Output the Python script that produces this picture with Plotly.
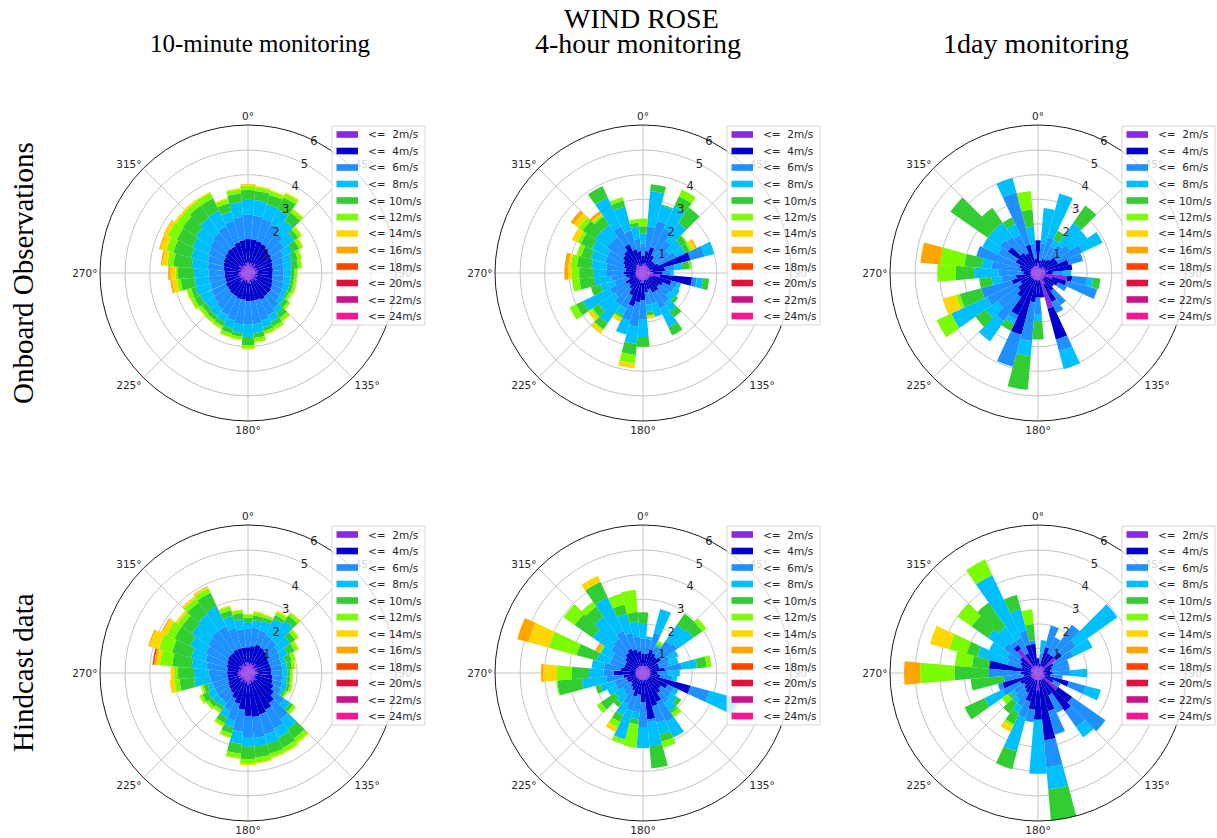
import numpy as np
import plotly.graph_objects as go

# ---------------- data ----------------
# wind direction sectors (degrees, clockwise from north)
DIRECTIONS = list(range(0, 360, 10))

SPEED_LABELS = ["<=\u00a0\u00a02m/s", "<=\u00a0\u00a04m/s", "<=\u00a0\u00a06m/s", "<=\u00a0\u00a08m/s",
                "<= 10m/s", "<= 12m/s", "<= 14m/s", "<= 16m/s",
                "<= 18m/s", "<= 20m/s", "<= 22m/s", "<= 24m/s"]
SPEED_COLORS = ["#8a2be2", "#0000cd", "#1e90ff", "#00bfff", "#32cd32", "#7cfc00",
                "#ffd700", "#ffa500", "#ff4500", "#dc143c", "#c71585", "#ff1493"]

COL_TITLES = ["10-minute monitoring", "4-hour monitoring", "1day monitoring"]
ROW_TITLES = ["Onboard Observations", "Hindcast data"]
RADIAL_TICKS = [1, 2, 3, 4, 5, 6]
ANGLE_TICKS = [0, 45, 90, 135, 180, 225, 270, 315]

# Cumulative frequency (%) per direction sector:
# each row = one sector (0, 10, ... 350 deg); values = cumulative up to <=2, <=4, <=6 ... m/s
OBS_10MIN = [
    [.45, 1.38, 2.37, 2.98, 3.38, 3.55, 3.62], [.35, 1.38, 2.35, 2.98, 3.35, 3.5, 3.55],
    [.4, 1.35, 2.3, 2.9, 3.3, 3.45, 3.5], [.3, 1.3, 2.2, 2.85, 3.4, 3.57, 3.62],
    [.45, 1.2, 2.0, 2.6, 3.0, 3.15, 3.2], [.3, 1.15, 1.8, 2.3, 2.5, 2.65, 2.7],
    [.35, 1.1, 1.6, 2.0, 2.3, 2.45, 2.5], [.3, 1.05, 1.5, 1.85, 2.1, 2.25, 2.28],
    [.4, 1.02, 1.45, 1.8, 2.05, 2.2, 2.22], [.35, 1.0, 1.45, 1.75, 1.9, 2.0, 2.02],
    [.3, 1.0, 1.45, 1.75, 1.88, 1.98, 2.0], [.4, 1.05, 1.5, 1.75, 1.9, 2.01, 2.03],
    [.3, 1.1, 1.55, 1.75, 1.85, 1.95, 1.97], [.45, 1.15, 1.6, 1.8, 2.0, 2.1, 2.13],
    [.3, 1.15, 1.75, 2.0, 2.25, 2.4, 2.43], [.35, 1.2, 1.9, 2.2, 2.4, 2.53, 2.56],
    [.3, 1.15, 2.0, 2.3, 2.45, 2.57, 2.6], [.45, 1.15, 2.1, 2.45, 2.65, 2.82, 2.85],
    [.4, 1.15, 2.1, 2.6, 2.95, 3.07, 3.12], [.3, 1.1, 2.1, 2.45, 2.6, 2.72, 2.75],
    [.35, 1.1, 2.0, 2.35, 2.55, 2.7, 2.73], [.3, 1.05, 1.9, 2.2, 2.38, 2.5, 2.53],
    [.45, 1.05, 1.8, 2.15, 2.35, 2.47, 2.5], [.3, 1.0, 1.7, 2.1, 2.3, 2.45, 2.48],
    [.35, 1.0, 1.65, 2.15, 2.4, 2.55, 2.58], [.3, .95, 1.6, 2.2, 2.4, 2.57, 2.61],
    [.4, .95, 1.6, 2.2, 2.75, 2.9, 3.1, 3.17], [.35, .95, 1.6, 2.2, 2.85, 2.95, 3.15, 3.25],
    [.3, 1.0, 1.65, 2.3, 3.05, 3.3, 3.5, 3.56], [.4, 1.05, 1.7, 2.4, 3.15, 3.45, 3.7, 3.75],
    [.3, 1.1, 1.8, 2.5, 3.2, 3.6, 3.75, 3.78], [.45, 1.15, 1.9, 2.6, 3.25, 3.55, 3.65],
    [.3, 1.2, 2.0, 2.75, 3.35, 3.58, 3.66], [.35, 1.2, 2.1, 2.8, 3.35, 3.6, 3.65],
    [.3, 1.3, 2.2, 2.6, 2.95, 3.12, 3.17], [.4, 1.35, 2.3, 2.9, 3.25, 3.42, 3.47],
]

OBS_4H = [
    [.35, .7, 1.2, 1.6, 1.9, 2.22], [.4, .9, 1.9, 3.35, 3.62],
    [.35, 1.1, 2.2, 2.85, 2.9], [.3, .8, 2.0, 3.0, 3.45, 3.75],
    [.3, .6, 1.6, 2.5, 3.25], [.3, .6, 1.3, 1.9, 2.15, 2.2],
    [.3, .7, 1.5, 1.9, 2.1, 2.2, 2.35, 2.42], [.4, 2.0, 2.6, 3.0],
    [.3, .9, 1.3, 1.6, 1.9, 2.0], [.4, .8, 1.1, 1.25],
    [.7, 2.0, 2.2, 2.45, 2.7], [.4, 1.2, 1.45, 1.6],
    [.3, .9, 1.4, 1.65], [.3, .8, 1.3, 1.6, 1.75],
    [.3, .9, 1.5, 1.9, 2.2], [.3, .9, 1.6, 2.45, 2.8],
    [.3, .7, 1.3, 1.85], [.3, .8, 1.3, 1.6, 1.75, 1.75, 1.88],
    [.4, 1.1, 1.9, 2.6, 3.0], [.4, 1.2, 2.2, 2.9, 3.35, 3.7, 3.9],
    [.3, 1.4, 2.0, 2.6], [.3, 1.0, 1.6, 1.9, 2.0, 2.05, 2.2],
    [.3, .8, 1.6, 2.5, 2.8, 2.85, 3.0], [.3, .7, 1.4, 2.2, 2.5, 2.6, 2.75],
    [.3, .8, 1.5, 2.7, 3.0, 3.3], [.3, .6, 1.2, 1.8, 2.2],
    [.3, .7, 1.3, 2.0, 2.6, 2.9], [.3, .8, 1.5, 2.0, 2.6, 2.9, 3.05, 3.2],
    [.3, .7, 1.5, 2.1, 2.7, 2.95, 3.05, 3.2], [.3, .8, 1.6, 2.2, 2.6, 2.8],
    [.3, .9, 1.6, 2.3, 2.8, 2.95, 3.2], [.35, 1.0, 1.8, 2.4, 3.0, 3.2, 3.45, 3.6],
    [.4, 1.1, 1.8, 2.4, 2.8, 2.9, 2.95, 3.08], [.4, 1.3, 2.1, 3.4, 3.9],
    [.3, 1.0, 1.8, 2.8, 3.05, 3.2], [.3, .9, 1.4, 1.9, 2.05, 2.2],
]

OBS_1DAY = [
    [.4, 1.33], [.2, .5, 1.2, 2.65],
    [.2, .6, 1.5, 3.35], [.2, .6, 1.2, 1.5, 1.9],
    [.3, .7, 1.4, 2.5, 3.35], [.3, .9, 1.6, 2.45],
    [.3, .9, 2.0, 2.9], [.3, 1.3, 1.9],
    [.4, 1.4], [.3, .6, 1.0, 1.35],
    [1.2, 1.4, 2.0, 2.25, 2.55], [.6, 1.2, 2.5],
    [.3, .9, 1.3], [.3, .8],
    [.3, .9, 1.6], [.5, 1.3, 1.8],
    [1.5, 2.8, 3.3, 4.05], [.3, 1.0],
    [.3, 1.0, 1.7, 1.95, 2.7], [.3, 1.2, 2.78, 3.4, 4.77],
    [.3, 2.6, 3.95], [.3, 1.9, 2.1, 2.3, 2.6],
    [.3, 1.2, 2.4, 3.4], [.3, 1.0, 2.0, 2.6, 3.1],
    [.3, .8, 2.3, 3.9, 3.9, 4.55], [.3, 1.1, 2.4, 2.4, 3.3, 3.45, 4.0],
    [.3, .9, 1.5, 1.9, 2.4], [.3, .6, 1.6, 2.6, 3.35, 4.1],
    [.3, .7, 1.9, 2.3, 3.0, 4.0, 4.0, 4.8], [.3, .8, 2.6],
    [.3, 1.0, 1.8, 2.5], [.3, 1.5, 1.9, 2.5, 4.35],
    [.3, 1.0, 1.8, 2.5, 3.24], [.3, .9, 1.7, 2.2, 2.5],
    [.3, 1.2, 3.4, 4.0], [.3, .6, 1.2, 1.9, 2.6, 3.35],
]

HIND_10MIN = [
    [.45, 1.05, 1.8, 2.07, 2.25, 2.37, 2.41], [.35, 1.1, 1.85, 2.15, 2.35, 2.48, 2.53],
    [.4, 1.2, 1.8, 2.2, 2.35, 2.44, 2.48], [.35, 1.15, 1.7, 2.45, 2.6, 2.75, 2.8],
    [.45, 1.1, 1.65, 2.6, 2.85, 2.98, 3.02], [.3, 1.0, 1.5, 2.1, 2.35, 2.5, 2.55],
    [.4, .95, 1.45, 1.8, 2.1, 2.25, 2.3], [.3, .95, 1.4, 1.6, 1.85, 2.0, 2.03],
    [.35, .95, 1.4, 1.6, 1.8, 1.92, 1.95], [.4, .95, 1.4, 1.6, 1.72, 1.8, 1.83],
    [.3, 1.0, 1.4, 1.6, 1.74, 1.82, 1.84], [.35, 1.05, 1.45, 1.65, 1.78, 1.87, 1.9],
    [.3, 1.15, 1.5, 1.6, 1.7, 1.77, 1.79], [.45, 1.3, 1.8, 2.1, 2.25, 2.37, 2.4],
    [.35, 1.5, 2.3, 2.8, 3.25, 3.45, 3.5], [.4, 1.65, 2.5, 2.9, 3.35, 3.53, 3.58],
    [.35, 1.75, 2.6, 3.0, 3.4, 3.55, 3.6], [.45, 1.8, 2.65, 3.0, 3.45, 3.65, 3.7],
    [.5, 1.75, 2.6, 3.0, 3.5, 3.7, 3.75], [.35, 1.5, 2.4, 2.9, 3.3, 3.48, 3.51],
    [.4, 1.3, 2.0, 2.3, 2.55, 2.72, 2.75], [.3, 1.15, 1.7, 2.0, 2.25, 2.38, 2.42],
    [.45, 1.0, 1.5, 1.7, 1.85, 1.97, 2.0], [.3, .95, 1.5, 1.75, 1.95, 2.07, 2.1],
    [.4, .9, 1.5, 1.8, 2.05, 2.17, 2.2], [.3, .85, 1.5, 1.7, 1.88, 1.97, 2.0],
    [.4, .85, 1.55, 2.2, 2.8, 3.0, 3.2], [.45, .85, 1.6, 2.2, 2.85, 3.0, 3.15],
    [.35, .85, 1.7, 2.3, 3.1, 3.6, 3.75, 3.83, 3.9], [.4, .9, 1.8, 2.4, 3.2, 3.75, 4.15, 4.2],
    [.3, .95, 1.9, 2.6, 3.3, 3.65, 3.85, 3.9], [.45, 1.0, 2.0, 2.8, 3.3, 3.5, 3.6],
    [.35, 1.0, 2.1, 2.9, 3.5, 3.7, 3.78, 3.8], [.4, 1.05, 2.1, 3.0, 3.6, 3.8, 3.88, 3.9],
    [.3, 1.05, 1.9, 2.4, 2.65, 2.8, 2.85], [.45, 1.05, 1.8, 2.2, 2.45, 2.57, 2.6],
]

HIND_4H = [
    [.3, .8, 1.4, 2.0, 2.47], [.3, .8, 1.4, 1.5],
    [.3, 1.0, 1.7, 2.7], [.3, .9, 1.2, 1.25, 1.3, 1.45],
    [.3, .8, 1.6, 2.4, 2.95], [.3, .9, 1.7, 2.5, 2.95, 3.15],
    [.3, .7, 1.2, 1.6], [.3, .7, 1.1, 1.5],
    [.3, .9, 1.6, 2.2, 2.6, 2.8], [.3, .6, 1.0, 1.5],
    [.3, .7, 1.2, 1.4], [.3, 2.0, 2.8, 4.0, 4.0, 4.05, 4.1],
    [.3, 1.1, 1.4, 1.6], [.3, .9, 1.4, 1.7, 1.9],
    [.3, 1.0, 1.5, 1.9, 2.0, 2.2], [.3, 1.3, 2.2, 2.9],
    [.3, 1.4, 2.1, 2.6, 2.9, 3.15], [.3, 1.9, 2.0, 3.0, 3.9],
    [.3, 1.2, 2.2, 3.05], [.3, .9, 1.6, 1.9, 2.1, 3.05],
    [.3, 1.0, 1.6, 2.8, 2.8, 3.0], [.3, .8, 1.4, 1.9, 2.2, 2.45, 2.65],
    [.3, .7, 1.1, 1.5, 1.7], [.3, .6, 1.0, 1.4, 2.1, 2.3],
    [.3, .7, 1.2, 1.6], [.3, .7, 1.2, 1.8, 2.0],
    [.3, .8, 1.5, 2.5, 3.5, 3.55], [.3, 1.2, 1.6, 2.2, 2.9, 3.5, 4.05, 4.15],
    [.3, .9, 1.6, 2.1], [.3, .8, 1.4, 1.95, 2.8, 3.96, 4.83, 5.3],
    [.3, .8, 1.4, 1.9, 1.9, 2.0, 2.0, 2.15], [.3, .9, 1.6, 2.5, 3.4, 3.95],
    [.3, 1.0, 1.7, 2.8, 3.3, 3.55], [.3, 1.1, 1.9, 3.4, 4.1, 4.1, 4.37],
    [.3, 1.0, 1.7, 2.5, 2.9, 3.35], [.3, .9, 1.5, 2.1, 2.5, 3.4],
]

HIND_1DAY = [
    [.3, .6], [.2, .4, .8, 1.35],
    [.3, 1.1, 2.0], [.3, .9, 1.6],
    [.3, .9, 2.4], [.9, 1.2, 1.9, 3.95],
    [.3, .7, 1.6, 2.45], [.2, .6, 1.3],
    [.2, .5, 1.3], [.3, .6, 1.3, 2.0],
    [.2, .5, 1.0], [.3, 1.3, 2.0, 2.65],
    [.3, .7, 1.0], [1.0, 1.7, 3.35],
    [.3, 1.9, 2.7, 3.2], [.3, 1.0, 1.8],
    [.3, 1.6, 2.6], [.3, 2.75, 3.85, 4.75, 6.05],
    [.7, 1.9, 1.9, 4.1], [.3, 1.5, 2.0],
    [.3, 1.2, 1.9, 3.3, 4.05], [.3, .9, 1.5, 1.8, 2.3, 2.4, 2.65],
    [.3, .8, 1.3, 1.5, 2.0], [.3, .7, 1.2, 1.4, 1.5, 1.8],
    [.3, .8, 1.6, 2.4, 3.3], [.3, 1.5, 1.7],
    [.3, .6, 1.4, 1.4, 2.75], [.2, .7, 2.0, 2.0, 3.4, 4.8, 4.8, 5.45],
    [.3, 2.0, 2.0, 2.0, 2.7, 3.4], [.3, .7, 1.3, 2.55, 3.0, 3.75, 4.55],
    [.3, .8, 1.4, 2.2], [.3, .9, 1.7, 2.5, 3.3, 4.0],
    [1.2, 1.4, 1.6, 2.3, 3.5], [.3, .9, 1.6, 4.4, 4.4, 5.1],
    [.3, 1.2, 1.8, 2.7, 3.3], [.3, 1.2, 1.35, 1.35, 2.0, 2.6],
]

PANELS = [OBS_10MIN, OBS_4H, OBS_1DAY, HIND_10MIN, HIND_4H, HIND_1DAY]

# ---------------- layout geometry (page pixels) ----------------
W, H = 1217, 838
CENTERS_X = [248, 643, 1038]
CENTERS_Y = [273, 673]
TITLE_X = [260, 638, 1036]
TITLE_SIZES = [25, 28, 28]
RADIUS = 148
R_MAX = 6.02
RADIAL_AXIS_ANGLE = 67.5      # = compass 22.5 deg


def class_frequencies(rows, n_classes):
    out = np.zeros((len(rows), n_classes))
    for i, row in enumerate(rows):
        cum = list(row) + [row[-1]] * (n_classes - len(row))
        out[i] = np.diff(np.concatenate([[0.0], cum]))
    return out


def px(x):
    return x / W


def py(y):
    return 1 - y / H


fig = go.Figure()
n_cls = len(SPEED_LABELS)
shapes = []
annotations = []

for k, rows in enumerate(PANELS):
    r_i, c_i = divmod(k, 3)
    name = "polar" if k == 0 else f"polar{k + 1}"
    freq = class_frequencies(rows, n_cls)
    for c in range(n_cls):
        if np.all(freq[:, c] <= 0):
            continue
        fig.add_trace(go.Barpolar(
            r=freq[:, c], theta=DIRECTIONS, width=10,
            marker=dict(color=SPEED_COLORS[c], line=dict(width=0)),
            name=SPEED_LABELS[c], showlegend=False, subplot=name,
            hovertemplate="%{theta}°: %{r:.2f}<extra>" + SPEED_LABELS[c] + "</extra>"))

    cx, cy = CENTERS_X[c_i], CENTERS_Y[r_i]
    fig.update_layout(**{name: dict(
        domain=dict(x=[px(cx - RADIUS), px(cx + RADIUS)], y=[py(cy + RADIUS), py(cy - RADIUS)]),
        bgcolor="white",
        barmode="stack",
        angularaxis=dict(rotation=90, direction="clockwise",
                         tickmode="array", tickvals=ANGLE_TICKS,
                         ticktext=[f"{a}°" for a in ANGLE_TICKS],
                         showline=True, linecolor="black", linewidth=0.9,
                         gridcolor="#c4c4c4", gridwidth=0.8, ticks="",
                         tickfont=dict(family="DejaVu Sans", size=10.5, color="#262626")),
        radialaxis=dict(range=[0, R_MAX], tickmode="array", tickvals=RADIAL_TICKS,
                        ticktext=[str(v) for v in RADIAL_TICKS], angle=RADIAL_AXIS_ANGLE,
                        tickangle=RADIAL_AXIS_ANGLE,
                        showline=False, ticks="", gridcolor="#c4c4c4", gridwidth=0.8,
                        tickfont=dict(family="DejaVu Sans", size=11.5, color="#262626")),
    )})

    # legend box (matplotlib style)
    shapes.append(dict(type="rect", xref="paper", yref="paper",
                       x0=px(cx + 84), x1=px(cx + 177), y0=py(cy + 52), y1=py(cy - 147),
                       fillcolor="rgba(255,255,255,0.8)", line=dict(color="#d6d6d6", width=1),
                       layer="above"))
    for c in range(n_cls):
        yc = cy - 138.5 + 16.5 * c
        shapes.append(dict(type="rect", xref="paper", yref="paper",
                           x0=px(cx + 88.5), x1=px(cx + 110), y0=py(yc + 3.3), y1=py(yc - 3.3),
                           fillcolor=SPEED_COLORS[c], line=dict(width=0), layer="above"))
        annotations.append(dict(x=px(cx + 118), y=py(yc), xref="paper", yref="paper",
                                text=SPEED_LABELS[c], showarrow=False, xanchor="left", yanchor="middle",
                                font=dict(family="DejaVu Sans", size=10.5, color="#262626")))

# titles
annotations.append(dict(x=px(641), y=py(19), xref="paper", yref="paper", text="WIND ROSE",
                        showarrow=False, xanchor="center", yanchor="middle",
                        font=dict(family="Liberation Serif", size=28, color="black")))
for c_i, t in enumerate(COL_TITLES):
    annotations.append(dict(x=px(TITLE_X[c_i]), y=py(44), xref="paper", yref="paper", text=t,
                            showarrow=False, xanchor="center", yanchor="middle",
                            font=dict(family="Liberation Serif", size=TITLE_SIZES[c_i], color="black")))
for r_i, t in enumerate(ROW_TITLES):
    annotations.append(dict(x=px(23), y=py(CENTERS_Y[r_i]), xref="paper", yref="paper", text=t,
                            showarrow=False, xanchor="center", yanchor="middle", textangle=-90,
                            font=dict(family="Liberation Serif", size=29, color="black")))

fig.update_layout(width=W, height=H, margin=dict(l=0, r=0, t=0, b=0),
                  paper_bgcolor="white", plot_bgcolor="white", showlegend=False,
                  shapes=shapes, annotations=annotations)

# the page's default 8px body margin would shift the fixed-size figure; remove it
fig.write_html("out.html", config={"displayModeBar": False},
               post_script="document.body.style.margin='0px';")
